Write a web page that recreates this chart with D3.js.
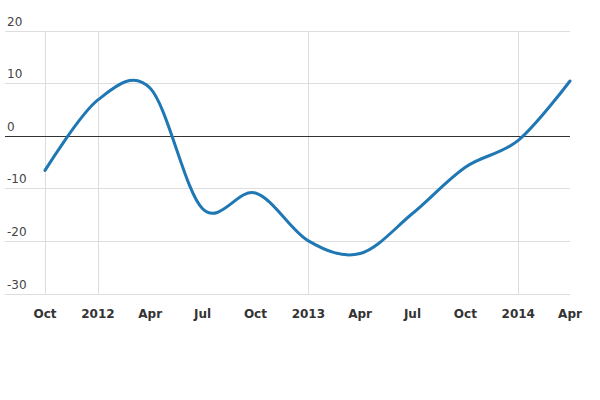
<!DOCTYPE html>
<html>
<head>
<meta charset="utf-8">
<script src="https://cdn.jsdelivr.net/npm/d3@7"></script>
<style>
  body { margin: 0; background: #fff; }
  svg { font-family: "DejaVu Sans", sans-serif; }
</style>
</head>
<body>
<div class="chart"></div>
<script>
// quarterly readings
const dates = ["2011-10-01", "2012-01-01", "2012-04-01", "2012-07-01", "2012-10-01",
  "2013-01-01", "2013-04-01", "2013-07-01", "2013-10-01", "2014-01-01", "2014-04-01"];
const values = [-6.5, 6.9, 9.1, -13.8, -10.8, -19.9, -22.3, -14.7, -5.9, -0.8, 10.5];
const yTicks = [-30, -20, -10, 0, 10, 20];
const xTickDates = ["2011-10-01", "2012-01-01", "2012-04-01", "2012-07-01", "2012-10-01",
  "2013-01-01", "2013-04-01", "2013-07-01", "2013-10-01", "2014-01-01", "2014-04-01"];
const vGridDates = ["2011-10-01", "2012-01-01", "2013-01-01", "2014-01-01"];

const width = 600, height = 400;
const parse = d3.utcParse("%Y-%m-%d");
const data = dates.map((d, i) => ({ date: parse(d), value: values[i] }));

const svg = d3.select(".chart").append("svg")
  .attr("width", width)
  .attr("height", height);

const x = d3.scaleUtc()
  .domain([parse("2011-10-01"), parse("2014-04-01")])
  .range([45, 570]);

const y = d3.scaleLinear()
  .domain([-30, 20])
  .range([294, 31]);

const py = v => Math.floor(y(v)) + 0.5;

// horizontal grid + labels sitting above the lines
const yg = svg.append("g").attr("class", "y-grid");
yg.selectAll("line").data(yTicks.filter(d => d !== 0)).enter().append("line")
  .attr("x1", 5).attr("x2", 570)
  .attr("y1", py).attr("y2", py)
  .attr("stroke", "#ddd")
  .attr("stroke-width", 1);
yg.selectAll("text").data(yTicks).enter().append("text")
  .attr("x", 7)
  .attr("y", d => Math.floor(y(d)) - 5)
  .attr("font-size", "12px")
  .attr("fill", "#444")
  .text(d => d);

// vertical grid
svg.append("g").selectAll("line").data(vGridDates).enter().append("line")
  .attr("x1", d => Math.round(x(parse(d))) + 0.5)
  .attr("x2", d => Math.round(x(parse(d))) + 0.5)
  .attr("y1", y(20)).attr("y2", y(-30))
  .attr("stroke", "#ddd");

// zero line on top of vertical grid
svg.append("line")
  .attr("x1", 5).attr("x2", 570)
  .attr("y1", py(0)).attr("y2", py(0))
  .attr("stroke", "#333");

// x labels
const fmt = d => d.getUTCMonth() === 0 ? d3.utcFormat("%Y")(d) : d3.utcFormat("%b")(d);
svg.append("g").selectAll("text").data(xTickDates).enter().append("text")
  .attr("x", d => x(parse(d)))
  .attr("y", 318)
  .attr("text-anchor", "middle")
  .attr("font-size", "12px")
  .attr("font-weight", "bold")
  .attr("fill", "#333")
  .text(d => fmt(parse(d)));

const line = d3.line()
  .x(d => x(d.date))
  .y(d => y(d.value))
  .curve(d3.curveCardinal);

svg.append("path")
  .datum(data)
  .attr("fill", "none")
  .attr("stroke", "#1f77b4")
  .attr("stroke-width", 3)
  .attr("stroke-linecap", "round")
  .attr("d", line);
</script>
</body>
</html>
